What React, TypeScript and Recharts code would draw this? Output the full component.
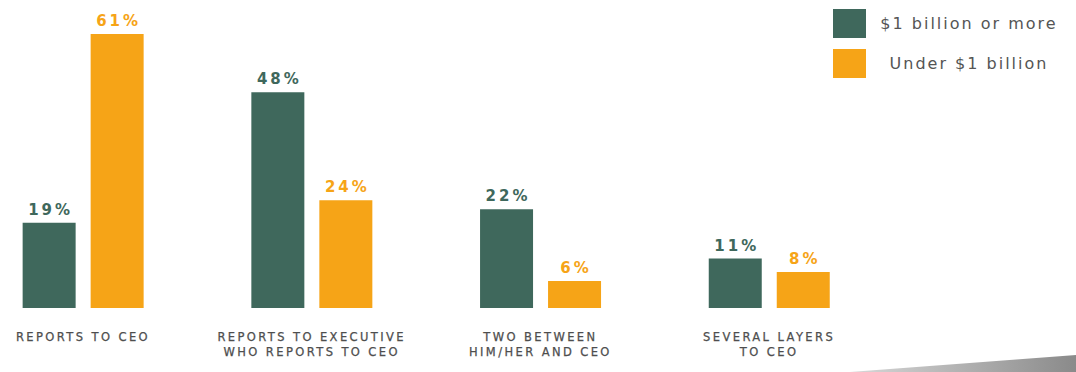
import React from 'react';
import { BarChart, Bar, XAxis, YAxis } from 'recharts';

const categories = [
  'REPORTS TO CEO',
  'REPORTS TO EXECUTIVE\nWHO REPORTS TO CEO',
  'TWO BETWEEN\nHIM/HER AND CEO',
  'SEVERAL LAYERS\nTO CEO',
];
const largeCompanies = [19, 48, 22, 11];
const smallCompanies = [61, 24, 6, 8];
const seriesNames = ['$1 billion or more', 'Under $1 billion'];

const GREEN = '#3f685c';
const ORANGE = '#f6a417';

const data = categories.map((c, i) => ({
  x: i,
  name: c,
  large: largeCompanies[i],
  small: smallCompanies[i],
}));

const CategoryTick = (props: any) => {
  const { x, y, payload } = props;
  const label = categories[Math.round(payload.value)] || '';
  const lines = label.split('\n');
  return (
    <text
      x={x}
      y={y}
      textAnchor="middle"
      fill="#4e4e4e"
      stroke="#4e4e4e"
      strokeWidth={0.25}
      fontFamily="DejaVu Sans"
      fontSize={11.5}
      letterSpacing={2.4}
    >
      {lines.map((l: string, i: number) => (
        <tspan key={i} x={x} dy={i === 0 ? 33 : 15}>
          {l}
        </tspan>
      ))}
    </text>
  );
};

const makeLabel = (color: string) => (props: any) => {
  const { x, y, width, value } = props;
  return (
    <text
      x={x + width / 2 + 1.5}
      y={y - 8}
      textAnchor="middle"
      fill={color}
      fontFamily="DejaVu Sans"
      fontWeight="bold"
      fontSize={15}
      letterSpacing={3}
    >
      {value}%
    </text>
  );
};

const LegendBox = () => (
  <div
    style={{
      position: 'absolute',
      top: 1,
      left: 825,
      fontFamily: 'DejaVu Sans',
      color: '#555',
    }}
  >
    {[GREEN, ORANGE].map((c, i) => (
      <div
        key={i}
        style={{ display: 'flex', alignItems: 'center', height: 29, marginBottom: i === 0 ? 11 : 0 }}
      >
        <div style={{ width: 33, height: 29, background: c }} />
        <div
          style={{
            width: 194,
            marginLeft: 6,
            textAlign: 'center',
            fontSize: 16,
            letterSpacing: 2,
            whiteSpace: 'nowrap',
          }}
        >
          {seriesNames[i]}
        </div>
      </div>
    ))}
  </div>
);

export default function App() {
  return (
    <div style={{ position: 'relative', width: 1060, height: 356 }}>
      <BarChart
        width={1060}
        height={356}
        data={data}
        margin={{ top: 8, right: 0, bottom: 0, left: 0 }}
        barSize={53}
        barGap={15}
      >
        <XAxis
          dataKey="x"
          type="number"
          scale="linear"
          domain={[-0.3279, 4.3069]}
          ticks={[0, 1, 2, 3]}
          tick={<CategoryTick />}
          tickLine={false}
          axisLine={false}
          tickSize={0}
          tickMargin={0}
          height={56}
          interval={0}
        />
        <YAxis hide domain={[0, 65]} />
        <Bar
          dataKey="large"
          name={seriesNames[0]}
          fill={GREEN}
          isAnimationActive={false}
          label={makeLabel(GREEN)}
        />
        <Bar
          dataKey="small"
          name={seriesNames[1]}
          fill={ORANGE}
          isAnimationActive={false}
          label={makeLabel(ORANGE)}
        />
      </BarChart>
      <LegendBox />
      <svg
        width={226}
        height={20}
        style={{ position: 'fixed', left: 850, top: 352 }}
      >
        <defs>
          <linearGradient id="wedge" x1="0" y1="0" x2="1" y2="0">
            <stop offset="0" stopColor="#d8d8d8" />
            <stop offset="1" stopColor="#8a8a8a" />
          </linearGradient>
        </defs>
        <polygon points="0,20 226,3 226,20" fill="url(#wedge)" />
      </svg>
    </div>
  );
}
